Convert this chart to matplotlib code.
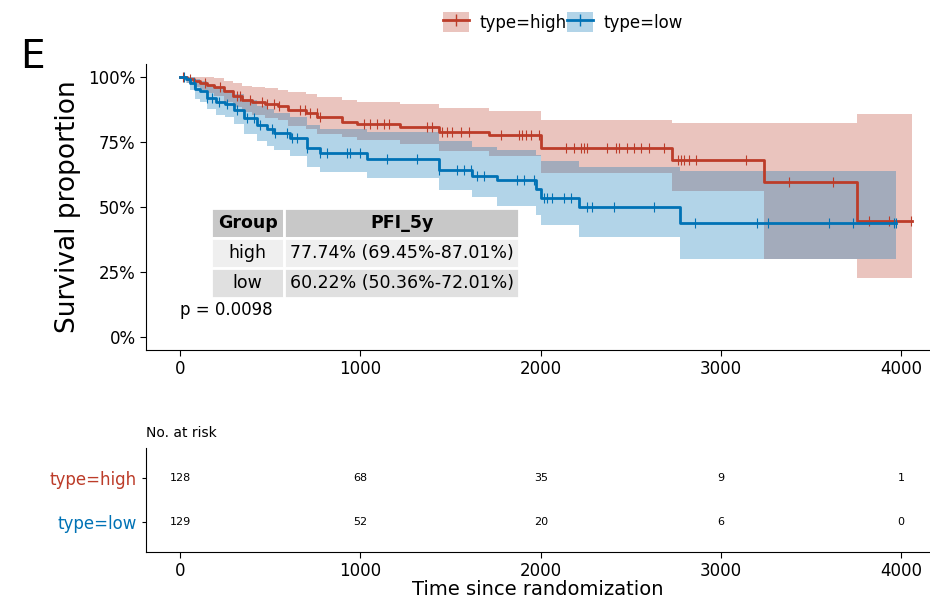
import matplotlib
matplotlib.use("Agg")
import matplotlib.pyplot as plt
from matplotlib.patches import Patch
from matplotlib.lines import Line2D

red = "#BC3C29"
blue = "#0072B5"

# high group: step times, survival, 95% CI
high_t = [0, 40, 75, 110, 150, 190, 240, 290, 340, 400, 470, 540, 600, 700, 760, 900, 980,
          1222, 1435, 1713, 2000, 2728, 3239, 3756, 4061]
high_s = [1.0, 0.992, 0.984, 0.976, 0.968, 0.960, 0.944, 0.928, 0.912, 0.904, 0.896, 0.888,
          0.871, 0.862, 0.845, 0.827, 0.818, 0.807, 0.787, 0.7774, 0.727, 0.681, 0.596, 0.446, 0.446]
high_lo = [1.0, 0.976, 0.962, 0.950, 0.938, 0.927, 0.905, 0.884, 0.864, 0.853, 0.842, 0.832,
           0.812, 0.800, 0.781, 0.768, 0.758, 0.742, 0.713, 0.6945, 0.632, 0.560, 0.300, 0.227, 0.227]
high_up = [1.0, 1.0, 1.0, 1.0, 1.0, 0.995, 0.985, 0.975, 0.965, 0.960, 0.955, 0.950,
           0.940, 0.933, 0.922, 0.910, 0.903, 0.895, 0.880, 0.8701, 0.835, 0.823, 0.823, 0.858, 0.858]
high_cens = [18, 55, 139, 222, 315, 333, 389, 454, 481, 518, 546, 667, 694, 722, 759, 778,
             1018, 1055, 1092, 1129, 1157, 1370, 1398, 1453, 1481, 1509, 1555, 1601, 1777,
             1880, 1898, 1916, 1944, 1991, 2139, 2185, 2222, 2241, 2259, 2370, 2417, 2435,
             2481, 2519, 2556, 2602, 2685, 2759, 2778, 2796, 2824, 2861, 3139, 3380, 3620,
             3824, 3935, 4056]

# low group
low_t = [0, 30, 55, 83, 110, 148, 200, 250, 296, 352, 426, 480, 518, 611, 704, 778, 1037,
         1435, 1620, 1759, 1972, 2000, 2211, 2772, 3972]
low_s = [1.0, 0.992, 0.976, 0.952, 0.944, 0.920, 0.904, 0.896, 0.873, 0.842, 0.815, 0.800,
         0.785, 0.765, 0.727, 0.708, 0.683, 0.642, 0.619, 0.6022, 0.569, 0.535, 0.500, 0.438, 0.438]
low_lo = [1.0, 0.977, 0.950, 0.915, 0.905, 0.875, 0.855, 0.845, 0.818, 0.782, 0.752, 0.735,
          0.718, 0.695, 0.655, 0.633, 0.612, 0.563, 0.538, 0.5036, 0.470, 0.430, 0.385, 0.300, 0.300]
low_up = [1.0, 1.0, 1.0, 0.990, 0.985, 0.968, 0.957, 0.951, 0.935, 0.910, 0.886, 0.875,
          0.862, 0.845, 0.813, 0.800, 0.788, 0.752, 0.732, 0.7201, 0.700, 0.677, 0.655, 0.638, 0.638]
low_cens = [19, 74, 148, 176, 213, 259, 315, 370, 407, 444, 509, 528, 593, 620, 648, 704,
            778, 815, 926, 944, 1000, 1148, 1315, 1435, 1537, 1574, 1611, 1648, 1685, 1870,
            1907, 1963, 2019, 2037, 2065, 2130, 2167, 2259, 2287, 2407, 2626, 2857, 3200,
            3259, 3602, 3731, 3963, 3972]

risk_times = [0, 1000, 2000, 3000, 4000]
risk_high = [128, 68, 35, 9, 1]
risk_low = [129, 52, 20, 6, 0]

table_rows = [["Group", "PFI_5y"],
              ["high", "77.74% (69.45%-87.01%)"],
              ["low", "60.22% (50.36%-72.01%)"]]
pval = "p = 0.0098"


def surv_at(ts, ss, x):
    val = ss[0]
    for t, s in zip(ts, ss):
        if t <= x:
            val = s
    return val


fig = plt.figure(figsize=(9.3, 6), dpi=100)
ax = fig.add_axes([0.157, 0.4167, 0.843, 0.477])

for ts, ss, lo, up, cens, col in [(high_t, high_s, high_lo, high_up, high_cens, red),
                                  (low_t, low_s, low_lo, low_up, low_cens, blue)]:
    ax.fill_between(ts, lo, up, step="post", color=col, alpha=0.3, lw=0)
    ax.step(ts, ss, where="post", color=col, lw=2)
    ax.plot(cens, [surv_at(ts, ss, c) for c in cens], ls="none", marker="|",
            markersize=7, mew=0.8, color=col)

ax.set_xlim(-190, 4160)
ax.set_ylim(-0.05, 1.05)
ax.set_xticks([0, 1000, 2000, 3000, 4000])
ax.set_yticks([0, 0.25, 0.5, 0.75, 1.0])
ax.set_yticklabels(["0%", "25%", "50%", "75%", "100%"])
ax.tick_params(labelsize=12, length=4, color="black")
for s in ["top", "right"]:
    ax.spines[s].set_visible(False)
ax.set_ylabel("Survival proportion", fontsize=19, labelpad=5)

tab = ax.table(cellText=table_rows, colWidths=[0.237, 0.763],
               bbox=[0.083, 0.182, 0.393, 0.315], cellLoc="center")
tab.auto_set_font_size(False)
bgs = ["#c8c8c8", "#efefef", "#e0e0e0"]
for (r, c), cell in tab.get_celld().items():
    cell.set_facecolor(bgs[r])
    cell.set_edgecolor("white")
    cell.set_linewidth(2)
    cell.get_text().set_fontsize(12.5)
    if r == 0:
        cell.get_text().set_fontweight("bold")

ax.text(255, 0.104, pval, fontsize=12, ha="center", va="center")

fig.text(0.022, 0.905, "E", fontsize=28, ha="left", va="center")

handles = [(Patch(facecolor=red, alpha=0.3, lw=0),
            Line2D([], [], color=red, lw=2, marker="|", markersize=8)),
           (Patch(facecolor=blue, alpha=0.3, lw=0),
            Line2D([], [], color=blue, lw=2, marker="|", markersize=8))]
fig.legend(handles, ["type=high", "type=low"], loc="center", bbox_to_anchor=(0.605, 0.963),
           ncol=2, frameon=False, fontsize=12, handlelength=1.6, handleheight=1.5,
           handletextpad=0.6, columnspacing=0.0)

# risk table
rax = fig.add_axes([0.157, 0.08, 0.843, 0.173])
for x, n in zip(risk_times, risk_high):
    rax.text(x, 2, str(n), fontsize=8, ha="center", va="center")
for x, n in zip(risk_times, risk_low):
    rax.text(x, 1, str(n), fontsize=8, ha="center", va="center")
rax.set_xlim(-190, 4160)
rax.set_ylim(0.32, 2.68)
rax.set_xticks([0, 1000, 2000, 3000, 4000])
rax.set_yticks([2, 1])
rax.set_yticklabels(["type=high", "type=low"])
rax.get_yticklabels()[0].set_color(red)
rax.get_yticklabels()[1].set_color(blue)
rax.tick_params(axis="y", labelsize=12, length=3)
rax.tick_params(axis="x", labelsize=12, length=4)
for s in ["top", "right"]:
    rax.spines[s].set_visible(False)
rax.set_xlabel("Time since randomization", fontsize=14, labelpad=0)
rax.set_title("No. at risk", fontsize=10, loc="left", x=0.0, pad=8)

fig.savefig("out.png", dpi=100)
